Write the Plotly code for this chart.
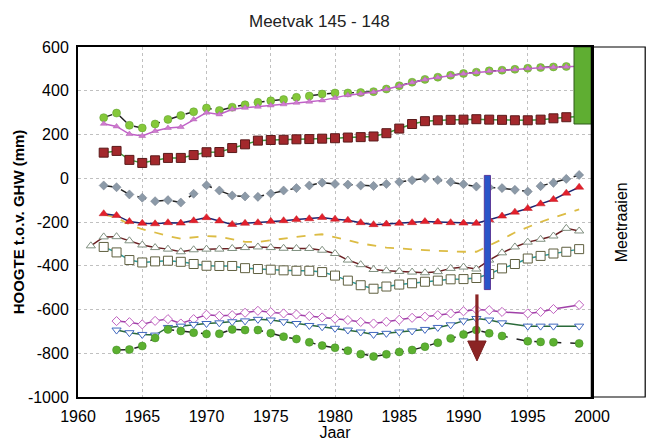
import plotly.graph_objects as go

years = list(range(1961, 2000))
N = None

# 1961 .. 1999
top_green = [N, 277, 298, 242, 230, 248, 269, 287, 304, 321, 310, 325, 336, 347, 354, 360, 370, 376, 385, 390,
             390, 392, 396, 408, 423, 439, 452, 462, 471, 479, 485, 491, 494, 498, 503, 506, 509, 511, 513]
magenta = [N, 249, 237, 202, 193, 216, 230, 234, 269, 300, 292, 315, 322, 327, 333, 338, 345, 350, 356, 367,
           380, 386, 394, 407, 422, 438, 451, 461, 470, 478, 484, 490, 493, 497, 502, 505, 508, 510, 512]
brown_sq = [N, 117, 125, 84, 70, 82, 93, 93, 106, 119, 120, 138, 155, 172, 175, 176, 178, 179, 181, 183,
            186, 188, 191, 206, 227, 248, 261, 265, 267, 268, 270, 268, 267, 265, 265, 268, 274, 279, 282]
gray_dia = [N, -33, -41, -74, -89, -105, -100, -111, -71, -32, -56, -79, -83, -85, -70, -56, -45, -33, -20, -26,
            -29, -33, -35, -26, -17, -9, 0, -8, -17, -27, -38, -42, -45, -53, -61, -36, -21, -3, 15]
red_tri = [N, -162, -170, -198, -206, -208, -203, -205, -194, -180, -195, -211, -206, -203, -197, -194, -189, -185, -179, -187,
           -192, -203, -212, -209, -206, -203, -198, -200, -203, -205, -206, -190, -173, -155, -138, -117, -97, -68, -41]
yellow = [N, -165, -180, -211, -233, -248, -264, -276, -271, -264, -267, -279, -291, -291, -283, -276, -268, -261, -256, -268,
          -283, -298, -309, -317, -321, -326, -329, -332, -335, -336, -336, -309, -279, -248, -223, -200, -180, -161, -142]
open_tri = [-309, -268, -267, -286, -305, -317, -324, -336, -327, -324, -324, -321, -317, -314, -317, -320, -321, -321, -329, -344,
            -374, -395, -417, -423, -426, -429, -432, -427, -412, -406, -415, -374, -341, -314, -292, -279, -264, -229, -241]
open_sq = [N, -314, -339, -374, -385, -380, -377, -382, -392, -400, -401, -401, -411, -415, -418, -421, -423, -423, -429, -445,
           -468, -489, -505, -495, -486, -480, -473, -468, -462, -461, -456, -438, -412, -392, -367, -355, -344, -336, -324]
open_dia = [N, N, -653, -658, -668, -652, -644, -664, -644, -624, -629, -626, -615, -606, -612, -618, -623, -630, -636, -642,
            -648, -657, -664, -656, -647, -638, -633, -626, -618, -608, -600, -603, -611, N, -618, -611, -598, N, -579]
down_tri = [N, N, -694, -706, -714, -717, -682, -676, -668, -664, -661, -656, -652, -645, -648, -656, -664, -673, -679, -686,
            -694, -703, -714, -709, -703, -698, -691, -682, -670, -652, -641, -648, -661, N, -676, -676, -676, N, -676]
low_green = [N, N, -785, -783, -767, -730, -691, -698, -706, -712, -711, -691, -694, -694, -708, -724, -735, -750, -765, -775,
             -788, -804, -815, -805, -794, -785, -770, -752, -732, -714, -694, -709, -721, N, -745, -748, -750, N, -755]

x_ticks = [1960, 1965, 1970, 1975, 1980, 1985, 1990, 1995, 2000]
y_ticks = [-1000, -800, -600, -400, -200, 0, 200, 400, 600]

FONT = "Liberation Sans, Arial, sans-serif"

fig = go.Figure()

def add(y, line_color, dash, msym, msize, mfill, mline, mlw=1, lw=1.5, mode="lines+markers"):
    fig.add_trace(go.Scatter(
        x=years, y=y, mode=mode, connectgaps=True,
        line=dict(color=line_color, width=lw, dash=dash),
        marker=dict(symbol=msym, size=msize, color=mfill, line=dict(color=mline, width=mlw)),
        showlegend=False, hoverinfo="skip"))

add(yellow, "#dcbc44", "dash", "circle", 1, "#dcbc44", "#dcbc44", 0, lw=1.8, mode="lines")
add(open_tri, "#6b1f22", "solid", "triangle-up", 8, "white", "#7f8f7f", 1)
add(open_sq, "#2a9a9a", "solid", "square", 9, "white", "#5f5f3f", 1)
add(gray_dia, "#222222", "dash", "diamond", 7, "#8c9aa8", "#707a88", 0.5)
add(red_tri, "#1c2470", "solid", "triangle-up", 8, "#e3202c", "#c01820", 0.5)
add(brown_sq, "#3a9a3a", "solid", "square", 9, "#a3282c", "#5a1a1a", 1)
add(top_green, "#222222", "dash", "circle", 8, "#85c83a", "#5a9a2a", 0.5)
add(magenta, "#c060c8", "solid", "triangle-up", 6, "#d07ad0", "#b060b0", 0.5)
add(open_dia, "#a040a8", "solid", "diamond", 7, "white", "#c060c0", 1)
add(down_tri, "#2a6a3a", "solid", "triangle-down", 8, "white", "#4068c0", 1)
add(low_green, "#222222", "dash", "circle", 8, "#5cb030", "#3f8a22", 0.5)

shapes = [
    # green block
    dict(type="rect", xref="x", yref="y", x0=1998.6, x1=2000, y0=248, y1=600,
         fillcolor="#5fae32", line=dict(color="#2f5a1a", width=1), layer="above"),
    # blue bar
    dict(type="rect", xref="x", yref="y", x0=1991.62, x1=1992.1, y0=-509, y1=13,
         fillcolor="#2a55c8", line=dict(color="#5a3a9a", width=1), layer="above"),
    # arrow shaft
    dict(type="rect", xref="x", yref="y", x0=1990.92, x1=1991.17, y0=-744, y1=-531,
         fillcolor="#8b2424", line=dict(width=0), layer="above"),
    # arrow head
    dict(type="path", xref="x", yref="y",
         path="M 1990.33 -744 L 1991.76 -744 L 1991.05 -835 Z",
         fillcolor="#8b2424", line=dict(color="#7a1e1e", width=1), layer="above"),
    # right panel box
    dict(type="rect", xref="paper", yref="paper", x0=1.0, x1=1.1035, y0=0, y1=1,
         fillcolor="rgba(0,0,0,0)", line=dict(color="black", width=1.2), layer="above"),
    dict(type="line", xref="paper", yref="paper", x0=1.0, x1=1.0, y0=0, y1=1,
         line=dict(color="black", width=2.5), layer="above"),
]

annotations = [
    dict(text="Meetraaien", xref="paper", yref="paper", x=1.0564, y=0.499,
         xanchor="center", yanchor="middle",
         showarrow=False, textangle=-90, font=dict(family=FONT, size=16, color="black")),
    dict(text="Meetvak 145 - 148", xref="paper", yref="paper", x=0.47, y=1.0,
         xanchor="center", yanchor="middle",
         yshift=26, showarrow=False, font=dict(family=FONT, size=17, color="#222222")),
]

fig.update_layout(
    width=648, height=441,
    margin=dict(l=78, r=56, t=47, b=44, autoexpand=False),
    paper_bgcolor="white", plot_bgcolor="white",
    shapes=shapes, annotations=annotations,
    font=dict(family=FONT, size=16, color="black"),
    xaxis=dict(range=[1960, 2000], tickvals=x_ticks, ticktext=[str(v) for v in x_ticks],
               showgrid=True, gridcolor="#c0c0c0", griddash="dot", gridwidth=1,
               showline=True, linecolor="black", linewidth=2, mirror=True,
               ticks="", zeroline=False, tickfont=dict(size=16), ticklabelstandoff=4,
               automargin=False,
               title=dict(text="Jaar", font=dict(size=16), standoff=0)),
    yaxis=dict(range=[-1000, 600], tickvals=y_ticks, ticktext=[str(v) for v in y_ticks],
               showgrid=True, gridcolor="#c0c0c0", griddash="dot", gridwidth=1,
               showline=True, linecolor="black", linewidth=2, mirror=True,
               ticks="", zeroline=False, tickfont=dict(size=16), ticklabelstandoff=4,
               automargin=False,
               title=dict(text="<b>HOOGTE t.o.v. GHW (mm)</b>", font=dict(size=15), standoff=0)),
)

fig.write_html("out.html")
